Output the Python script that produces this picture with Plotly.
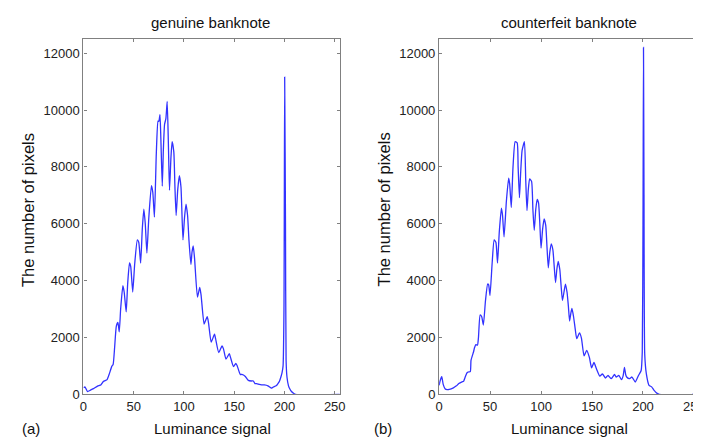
import plotly.graph_objects as go

# ---- data ----
genuine_lum = [0, 1.5, 4, 7, 10, 14, 17.5, 20, 23.5, 25.5, 28.4, 29.5, 31, 32.7, 34.3, 35.6, 37, 39.2, 40.5,
               42.5, 44, 45.8, 47, 49, 51, 53.6, 55, 56.9, 58.5, 60.1, 61.5, 63.1, 65, 67.6, 69, 70.6, 72.5,
               74.2, 75, 76.1, 77, 78.4, 79.5, 80.7, 82, 83.3, 84.5, 85.6, 87, 88.2, 89.9, 91, 92.2, 93.8,
               95.4, 97, 99, 100.5, 102, 103.6, 105, 106.9, 108, 109.2, 110.5, 113.4, 115.7, 117, 120, 121.5,
               123.2, 124.5, 127.1, 130.4, 131.5, 134.6, 137.9, 139.3, 141.8, 145.1, 146.3, 149.3, 151.6, 153,
               156, 157.5, 160.8, 162.5, 164.1, 167, 169, 170.6, 172.3, 175, 177.2, 180, 183.5, 186.8, 189,
               191.7, 193.5, 195, 196.5, 197.6, 198.6, 199.5, 200.2, 201, 201.6, 202.5, 204, 205.5, 207, 209,
               211, 255]
genuine_cnt = [230, 260, 100, 150, 200, 290, 340, 460, 520, 700, 1000, 1050, 1650, 2400, 2530, 2200, 3000, 3820, 3600,
               2900, 3900, 4620, 4500, 3600, 4600, 5430, 5350, 4620, 5800, 6510, 6000, 4970, 6200, 7340, 7100, 6230, 8500,
               9610, 9600, 9840, 9000, 7320, 8600, 9500, 9700, 10300, 8800, 7180, 8300, 8890, 8520, 7300, 6290, 7200,
               7690, 7300, 5430, 6200, 6690, 6290, 5400, 4570, 5000, 5220, 4800, 3420, 3760, 3500, 2470, 2600,
               2730, 2500, 1835, 2120, 1950, 1470, 1700, 1600, 1240, 1430, 1300, 975, 1090, 1000,
               700, 700, 640, 560, 490, 470, 470, 380, 380, 350, 335, 330, 300, 220, 260,
               300, 380, 460, 620, 765, 1000, 3000, 11160, 6000, 1200, 600, 300, 180, 100, 40,
               0, 0]

counterfeit_lum = [0, 1, 2.6, 4, 5.8, 8, 10, 14, 17, 19.3, 22.5, 24, 25.5, 27.4, 29, 30.6, 31.3, 33.8, 34.8, 36,
                   37.6, 38.6, 40.2, 41.8, 43.4, 45.5, 47.6, 48.6, 49.9, 52, 54, 55.7, 57.3, 59, 61.1, 62.2, 63.7,
                   66, 68.2, 69.2, 70.8, 72.5, 74.6, 76.6, 77.5, 78.8, 80, 81.4, 83.7, 85, 86.2, 87.5, 88.8, 90.7,
                   92, 93.3, 94.8, 96.2, 97.5, 98.8, 100, 101.5, 103, 104.6, 105.8, 107.1, 108.6, 110, 111.6, 112.9,
                   114.2, 115.5, 116.8, 118.4, 119.7, 121, 122.5, 123.9, 125.5, 126.8, 128, 129.2, 130.3, 131.9,
                   133.5, 135, 137.7, 139.6, 142.2, 144.8, 147.4, 149.6, 151.9, 154.4, 157.7, 160.2, 163.1, 165.7,
                   168.9, 172.1, 173.7, 176.3, 178.9, 180.5, 181.8, 183, 184, 186.6, 189.2, 192.4, 195.6, 198.2,
                   199.3, 200, 200.5, 201, 201.7, 203.3, 205.9, 208.5, 210.7, 213.9, 216, 249, 251, 253, 254.2, 255]
counterfeit_cnt = [320, 480, 620, 350, 200, 170, 175, 230, 300, 380, 440, 460, 600, 760, 790, 800, 1200, 1500, 1650, 1750,
                   1730, 2000, 2790, 2730, 2440, 3300, 3880, 3850, 3480, 4600, 5430, 5350, 4620, 5700, 6550, 6300, 5540,
                   6800, 7600, 7400, 6570, 8000, 8890, 8840, 8000, 6920, 7800, 8580, 8890, 7500, 6460, 7200, 7580, 7490,
                   6500, 5770, 6500, 6860, 6740, 6000, 5140, 5800, 6170, 5940, 5200, 4450, 5000, 5290, 5080, 4500,
                   3930, 4400, 4680, 4390, 3800, 3300, 3600, 3880, 3590, 3100, 2580, 2850, 3020, 2730,
                   2300, 1960, 2160, 1980, 1350, 1550, 1300, 930, 1120, 895, 640, 720, 575, 665,
                   550, 700, 610, 665, 515, 650, 950, 700, 610, 550, 610, 435, 665, 840,
                   1500, 6000, 12200, 7000, 1410, 720, 320, 264, 150, 35, 0, 0, 60, 200, 400, 950]

x_ticks = [0, 50, 100, 150, 200, 250]
y_ticks = [0, 2000, 4000, 6000, 8000, 10000, 12000]
panel_titles = ["genuine banknote", "counterfeit banknote"]
panel_labels = ["(a)", "(b)"]
x_title = "Luminance signal"
y_title = "The number of pixels"

W, H = 701, 441
def px(x):
    return x / W
def py(y):
    return 1 - y / H

FONT = "Liberation Sans, Arial, Helvetica, sans-serif"
LINE = "rgb(50,50,255)"
FRAME = "#808080"

fig = go.Figure()
fig.add_trace(go.Scatter(x=genuine_lum, y=genuine_cnt, mode="lines",
                         line=dict(color=LINE, width=1.3, shape="spline", smoothing=0.5),
                         xaxis="x", yaxis="y", showlegend=False))
fig.add_trace(go.Scatter(x=counterfeit_lum, y=counterfeit_cnt, mode="lines",
                         line=dict(color=LINE, width=1.3, shape="spline", smoothing=0.5),
                         xaxis="x2", yaxis="y2", showlegend=False))

ydom = [py(393.5), py(31.5)]
tickfont = dict(family=FONT, size=13, color="#222")
common_x = dict(range=[0, 255], tickvals=x_ticks, ticks="inside", ticklen=3, tickcolor=FRAME,
                showline=True, linecolor=FRAME, linewidth=1.3, mirror="ticks", showgrid=False,
                zeroline=False, tickformat="d", tickfont=tickfont)
common_y = dict(range=[0, 12500], tickvals=y_ticks, ticks="inside", ticklen=3, tickcolor=FRAME,
                showline=True, linecolor=FRAME, linewidth=1.3, mirror="ticks", showgrid=False,
                zeroline=False, tickformat="d", tickfont=tickfont, domain=ydom)

fig.update_layout(
    width=W, height=H, margin=dict(l=0, r=0, t=0, b=0),
    paper_bgcolor="white", plot_bgcolor="white",
    xaxis=dict(domain=[px(72.5), px(332.5)], anchor="y", **common_x),
    yaxis=dict(anchor="x", **common_y),
    xaxis2=dict(domain=[px(433.3), px(697)], anchor="y2", **common_x),
    yaxis2=dict(anchor="x2", **common_y),
)

ann = []
for cx, t in zip([201, 565.5], panel_titles):
    ann.append(dict(x=px(cx), y=py(15), xref="paper", yref="paper", text=t, showarrow=False,
                    xanchor="center", yanchor="middle", font=dict(family=FONT, size=15, color="#111")))
for cx in [203, 566]:
    ann.append(dict(x=px(cx), y=py(428), xref="paper", yref="paper", text=x_title, showarrow=False,
                    xanchor="center", yanchor="middle", font=dict(family=FONT, size=15, color="#111")))
for cx in [15.5, 377]:
    ann.append(dict(x=px(cx), y=py(205.5), xref="paper", yref="paper", text=y_title, showarrow=False,
                    textangle=-90, xanchor="center", yanchor="middle",
                    font=dict(family=FONT, size=16.5, color="#111")))
for cx, t in zip([19, 376], panel_labels):
    ann.append(dict(x=px(cx), y=py(428), xref="paper", yref="paper", text=t, showarrow=False,
                    xanchor="center", yanchor="middle", font=dict(family=FONT, size=15, color="#111")))
fig.update_layout(annotations=ann)

# black bracket at right edge (part of neighbouring figure)
shapes = [dict(type="line", xref="paper", yref="paper", x0=px(694.3), x1=px(694.3), y0=py(35), y1=py(339),
               line=dict(color="black", width=2))]
for yy in [35, 175, 244, 339]:
    shapes.append(dict(type="line", xref="paper", yref="paper", x0=px(693.5), x1=px(702), y0=py(yy), y1=py(yy),
                       line=dict(color="black", width=2)))
fig.update_layout(shapes=shapes)

fig.write_html("out.html")
